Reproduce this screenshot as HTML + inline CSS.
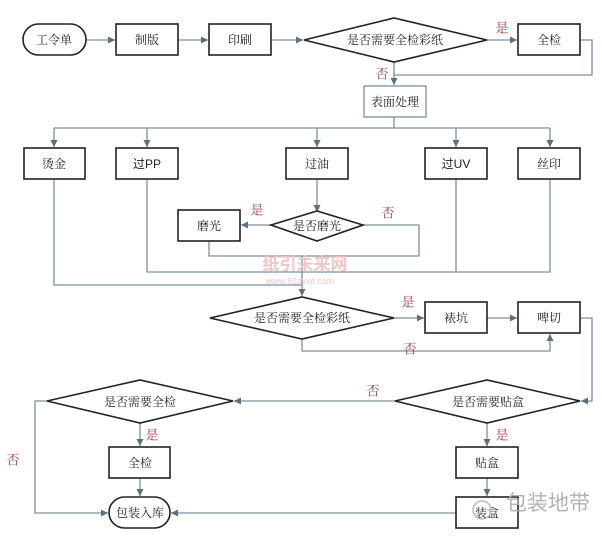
<!DOCTYPE html>
<html><head><meta charset="utf-8"><style>
body{margin:0;background:#fff;}
svg{display:block;font-family:"Liberation Serif","Noto Serif CJK SC","Noto Sans CJK SC",serif;}
.b{fill:#fff;stroke:#222;stroke-width:1.6;}
.l{fill:none;stroke:#7d8fa0;stroke-width:1.3;}
.t{font-size:12px;fill:#222;text-anchor:middle;dominant-baseline:central;}
.r{font-size:13px;fill:#b03a48;text-anchor:middle;dominant-baseline:central;}
</style></head><body>
<svg width="602" height="538" viewBox="0 0 602 538">
<defs><marker id="a" markerWidth="8" markerHeight="8" refX="7" refY="4" orient="auto" markerUnits="userSpaceOnUse"><path d="M0,0.5 L7,4 L0,7.5 z" fill="#5d6f80"/></marker></defs>
<g class="l">
<path d="M86,40 H115" marker-end="url(#a)"/>
<path d="M178,40 H208" marker-end="url(#a)"/>
<path d="M271,40 H303" marker-end="url(#a)"/>
<path d="M487,40 H517" marker-end="url(#a)"/>
<path d="M580,40 H592 V75 H394"/>
<path d="M394,62 V85" marker-end="url(#a)"/>
<path d="M394,117 V128 M54,128 H550"/>
<path d="M54,128 V147" marker-end="url(#a)"/>
<path d="M147,128 V147" marker-end="url(#a)"/>
<path d="M317,128 V147" marker-end="url(#a)"/>
<path d="M456,128 V147" marker-end="url(#a)"/>
<path d="M550,128 V147" marker-end="url(#a)"/>
<path d="M317,179 V212" marker-end="url(#a)"/>
<path d="M271,225 H241" marker-end="url(#a)"/>
<path d="M363,225 H419 V256 H209 V241"/>
<path d="M147,179 V272 H550 V179"/>
<path d="M456,179 V272"/>
<path d="M54,179 V285 H302"/>
<path d="M302,256 V296" marker-end="url(#a)"/>
<path d="M394,318 H424" marker-end="url(#a)"/>
<path d="M487,318 H517" marker-end="url(#a)"/>
<path d="M302,339 V351 H550 V334" marker-end="url(#a)"/>
<path d="M580,318 H592 V401 H581" marker-end="url(#a)"/>
<path d="M395,401 H234" marker-end="url(#a)"/>
<path d="M140,423 V446" marker-end="url(#a)"/>
<path d="M140,478 V496" marker-end="url(#a)"/>
<path d="M487,423 V446" marker-end="url(#a)"/>
<path d="M487,478 V496" marker-end="url(#a)"/>
<path d="M47,401 H35 V513 H108" marker-end="url(#a)"/>
<path d="M456,513 H171" marker-end="url(#a)"/>
</g>
<text x="305" y="270" style="font-family:'Liberation Sans','Noto Sans CJK SC',sans-serif;font-size:17px;font-weight:bold;fill:#f2c6c6;text-anchor:middle">纸引未来网</text>
<text x="300" y="284" style="font-family:'Liberation Sans',sans-serif;font-size:9px;fill:#f2c6c6;text-anchor:middle">www.51zywl.com</text>
<rect class="b" x="23" y="24" width="63" height="31" rx="15.5"/>
<rect class="b" x="116" y="24" width="62" height="31"/>
<rect class="b" x="209" y="24" width="62" height="31"/>
<polygon class="b" points="304,40 394,18 487,40 394,62"/>
<rect class="b" x="518" y="24" width="62" height="31"/>
<rect x="364" y="86" width="62" height="31" fill="#fff" stroke="#7d8fa0" stroke-width="1.3"/>
<rect class="b" x="24" y="148" width="61" height="31"/>
<rect class="b" x="116" y="148" width="62" height="31"/>
<rect class="b" x="286" y="148" width="62" height="31"/>
<rect class="b" x="425" y="148" width="62" height="31"/>
<rect class="b" x="518" y="148" width="62" height="31"/>
<rect class="b" x="178" y="210" width="62" height="31"/>
<polygon class="b" points="271,225 317,211 363,225 317,241"/>
<polygon class="b" points="210,318 302,297 394,318 302,339"/>
<rect class="b" x="425" y="302" width="62" height="31"/>
<rect class="b" x="518" y="302" width="62" height="31"/>
<polygon class="b" points="47,401 140,380 233,401 140,423"/>
<polygon class="b" points="395,401 487,380 580,401 487,423"/>
<rect class="b" x="109" y="447" width="61" height="31"/>
<rect class="b" x="456" y="447" width="62" height="31"/>
<rect class="b" x="109" y="497" width="61" height="31" rx="15.5"/>
<rect class="b" x="456" y="497" width="62" height="31"/>
<g class="t">
<text x="54" y="40">工令单</text><text x="147" y="40">制版</text><text x="240" y="40">印刷</text>
<text x="395" y="40">是否需要全检彩纸</text><text x="549" y="40">全检</text>
<text x="395" y="102">表面处理</text>
<text x="54" y="164">烫金</text><text x="147" y="164" style="font-family:'Liberation Sans','Noto Sans CJK SC',sans-serif">过PP</text>
<text x="317" y="164">过油</text><text x="456" y="164" style="font-family:'Liberation Sans','Noto Sans CJK SC',sans-serif">过UV</text><text x="549" y="164">丝印</text>
<text x="209" y="226">磨光</text><text x="317" y="226">是否磨光</text>
<text x="302" y="318">是否需要全检彩纸</text><text x="456" y="318">裱坑</text><text x="549" y="318">啤切</text>
<text x="140" y="402">是否需要全检</text><text x="488" y="402">是否需要贴盒</text>
<text x="140" y="463">全检</text><text x="487" y="463">贴盒</text>
<text x="140" y="513">包装入库</text><text x="487" y="513">装盒</text>
</g>
<g class="r">
<text x="502" y="28">是</text><text x="382" y="74">否</text>
<text x="257" y="210">是</text><text x="388" y="213">否</text>
<text x="408" y="302">是</text><text x="410" y="349">否</text>
<text x="373" y="391">否</text><text x="152" y="435">是</text><text x="502" y="435">是</text>
<text x="13" y="460">否</text>
</g>
<text x="548" y="510" style="font-family:'Liberation Sans','Noto Sans CJK SC',sans-serif;font-size:21px;fill:#aaa;text-anchor:middle;opacity:0.9">包装地带</text>
<circle cx="482" cy="510" r="9" fill="none" stroke="#bbb" stroke-width="1.5"/>
</svg>
</body></html>
